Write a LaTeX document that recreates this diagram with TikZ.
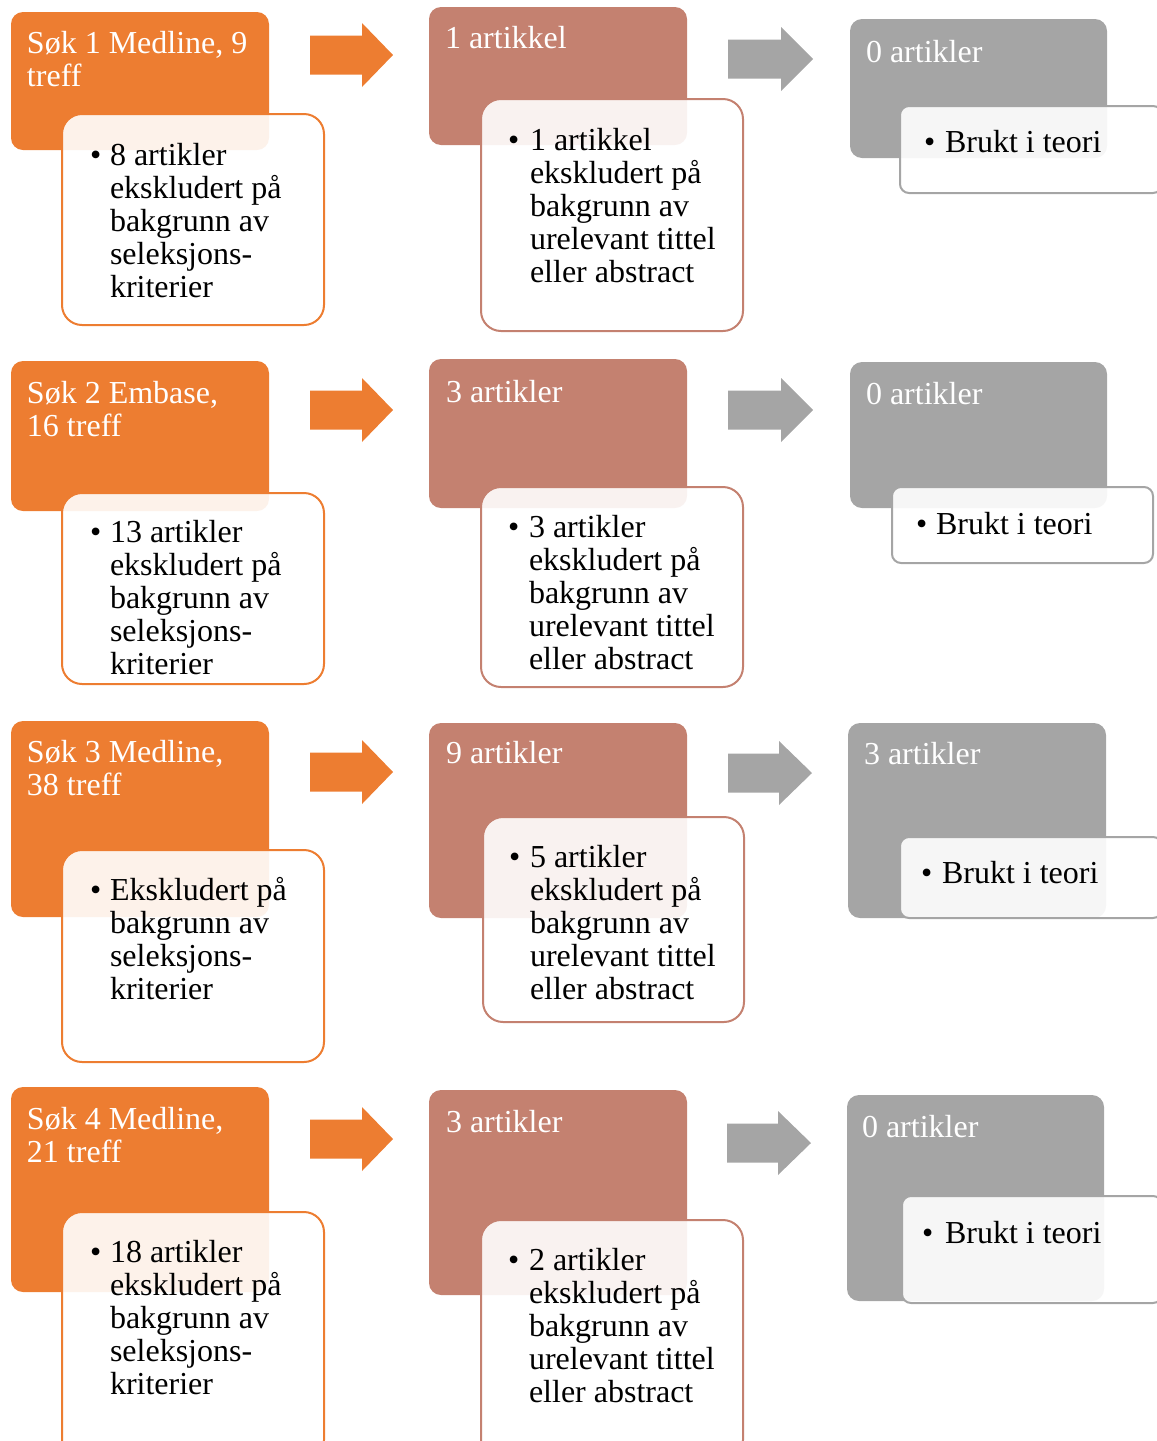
\documentclass[tikz,border=0pt]{standalone}
\usepackage{fontspec}
\setmainfont{Liberation Serif}
\definecolor{cor}{HTML}{ED7D31}
\definecolor{cred}{HTML}{C48170}
\definecolor{cgr}{HTML}{A5A5A5}
\newcommand\mkbox[6]{\node[#1, anchor=north west, minimum width={(#5)-(#3)}, minimum height={(#6)-(#4)}] (#2) at (#3,#4) {};}
\newcommand\blockarr[6]{\fill[#1] (#2,#5-19.5) coordinate (#6a) -- (#3,#5-19.5) -- (#3,#5-32) -- (#4,#5) coordinate (#6t) -- (#3,#5+32) -- (#3,#5+19.5) -- (#2,#5+19.5) -- cycle;}
\newcommand\ls[1]{\vtop{#1}}
\begin{document}
\begin{tikzpicture}[x=1pt,y=-1pt,
  cbox/.style={rectangle, rounded corners=12pt, inner sep=0pt, outer sep=0pt},
  obox/.style={cbox, fill=cor},
  rbox/.style={cbox, fill=cred},
  gbox/.style={cbox, fill=cgr},
  wbox/.style={rectangle, rounded corners=20pt, inner sep=0pt, outer sep=0pt, line width=2pt, fill=white, fill opacity=0.9, text opacity=1},
  wobox/.style={wbox, draw=cor},
  wrbox/.style={wbox, draw=cred},
  wgbox/.style={wbox, draw=cgr, rounded corners=9pt},
  txt/.style={inner sep=0pt, outer sep=0pt, anchor=base west, font=\fontsize{32pt}{33pt}\selectfont, text=black},
  ttl/.style={txt, text=white},
]
\useasboundingbox (0,0) rectangle (1157,1441);
\clip (0,0) rectangle (1157,1441);

% ---------------- Row 1 ----------------
\mkbox{obox}{o1}{11}{12}{269}{150}
\mkbox{wobox}{w1}{62}{114}{324}{325}
\blockarr{cor}{310}{362}{393}{55}{ao1}
\mkbox{rbox}{r1}{429}{7}{687}{145}
\mkbox{wrbox}{wr1}{481}{99}{743}{331}
\blockarr{cgr}{728}{781}{813}{59}{ag1}
\mkbox{gbox}{g1}{850}{19}{1107}{158}
\mkbox{wgbox}{wg1}{900}{106}{1162}{193}

\node[ttl] (o1t) at (27,53) {\ls{\hbox{Søk 1 Medline, 9}\hbox{treff}}};
\node[txt] (w1b) at (90,165) {•};
\node[txt] (w1t) at (110,165) {\ls{\hbox{8 artikler}\hbox{ekskludert på}\hbox{bakgrunn av}\hbox{seleksjons-}\hbox{kriterier}}};
\node[ttl] (r1t) at (445,48) {1 artikkel};
\node[txt] (wr1b) at (508,150) {•};
\node[txt] (wr1t) at (530,150) {\ls{\hbox{1 artikkel}\hbox{ekskludert på}\hbox{bakgrunn av}\hbox{urelevant tittel}\hbox{eller abstract}}};
\node[ttl] (g1t) at (866,62) {0 artikler};
\node[txt] (wg1b) at (924,152) {•};
\node[txt] (wg1t) at (945,152) {Brukt i teori};

% ---------------- Row 2 ----------------
\mkbox{obox}{o2}{11}{361}{269}{511}
\mkbox{wobox}{w2}{62}{493}{324}{684}
\blockarr{cor}{310}{362}{393}{410}{ao2}
\mkbox{rbox}{r2}{429}{359}{687}{508}
\mkbox{wrbox}{wr2}{481}{487}{743}{687}
\blockarr{cgr}{728}{781}{813}{410}{ag2}
\mkbox{gbox}{g2}{850}{362}{1107}{508}
\mkbox{wgbox}{wg2}{892}{487}{1153}{563}

\node[ttl] (o2t) at (27,403) {\ls{\hbox{Søk 2 Embase,}\hbox{16 treff}}};
\node[txt] (w2b) at (90,542) {•};
\node[txt] (w2t) at (110,542) {\ls{\hbox{13 artikler}\hbox{ekskludert på}\hbox{bakgrunn av}\hbox{seleksjons-}\hbox{kriterier}}};
\node[ttl] (r2t) at (446,402) {3 artikler};
\node[txt] (wr2b) at (508,537) {•};
\node[txt] (wr2t) at (529,537) {\ls{\hbox{3 artikler}\hbox{ekskludert på}\hbox{bakgrunn av}\hbox{urelevant tittel}\hbox{eller abstract}}};
\node[ttl] (g2t) at (866,404) {0 artikler};
\node[txt] (wg2b) at (916,534) {•};
\node[txt] (wg2t) at (936,534) {Brukt i teori};

% ---------------- Row 3 ----------------
\mkbox{obox}{o3}{11}{721}{269}{917}
\mkbox{wobox}{w3}{62}{850}{324}{1062}
\blockarr{cor}{310}{362}{393}{772}{ao3}
\mkbox{rbox}{r3}{429}{723}{687}{918}
\mkbox{wrbox}{wr3}{483}{817}{744}{1022}
\blockarr{cgr}{728}{779}{812}{773}{ag3}
\mkbox{gbox}{g3}{848}{723}{1106}{918}
\mkbox{wgbox}{wg3}{900}{837}{1162}{918}

\node[ttl] (o3t) at (27,762) {\ls{\hbox{Søk 3 Medline,}\hbox{38 treff}}};
\node[txt] (w3b) at (90,900) {•};
\node[txt] (w3t) at (110,900) {\ls{\hbox{Ekskludert på}\hbox{bakgrunn av}\hbox{seleksjons-}\hbox{kriterier}}};
\node[ttl] (r3t) at (446,763) {9 artikler};
\node[txt] (wr3b) at (509,867) {•};
\node[txt] (wr3t) at (530,867) {\ls{\hbox{5 artikler}\hbox{ekskludert på}\hbox{bakgrunn av}\hbox{urelevant tittel}\hbox{eller abstract}}};
\node[ttl] (g3t) at (864,764) {3 artikler};
\node[txt] (wg3b) at (921,883) {•};
\node[txt] (wg3t) at (942,883) {Brukt i teori};

% ---------------- Row 4 ----------------
\mkbox{obox}{o4}{11}{1087}{269}{1292}
\mkbox{wobox}{w4}{62}{1212}{324}{1460}
\blockarr{cor}{310}{362}{393}{1139}{ao4}
\mkbox{rbox}{r4}{429}{1090}{687}{1295}
\mkbox{wrbox}{wr4}{481}{1220}{743}{1460}
\blockarr{cgr}{727}{778}{811}{1143}{ag4}
\mkbox{gbox}{g4}{847}{1095}{1104}{1301}
\mkbox{wgbox}{wg4}{902}{1196}{1162}{1303}

\node[ttl] (o4t) at (27,1129) {\ls{\hbox{Søk 4 Medline,}\hbox{21 treff}}};
\node[txt] (w4b) at (90,1262) {•};
\node[txt] (w4t) at (110,1262) {\ls{\hbox{18 artikler}\hbox{ekskludert på}\hbox{bakgrunn av}\hbox{seleksjons-}\hbox{kriterier}}};
\node[ttl] (r4t) at (446,1132) {3 artikler};
\node[txt] (wr4b) at (508,1270) {•};
\node[txt] (wr4t) at (529,1270) {\ls{\hbox{2 artikler}\hbox{ekskludert på}\hbox{bakgrunn av}\hbox{urelevant tittel}\hbox{eller abstract}}};
\node[ttl] (g4t) at (862,1137) {0 artikler};
\node[txt] (wg4b) at (922,1243) {•};
\node[txt] (wg4t) at (945,1243) {Brukt i teori};
\end{tikzpicture}
\end{document}
